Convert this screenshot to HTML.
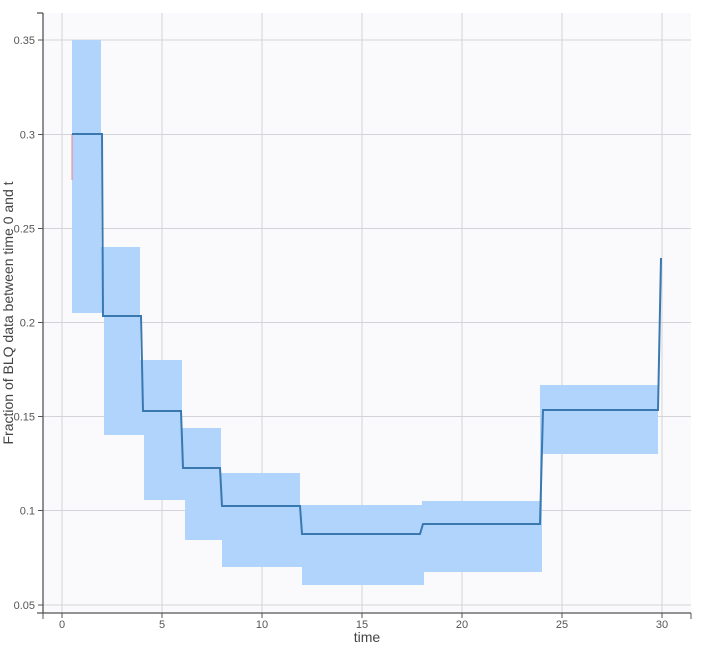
<!DOCTYPE html>
<html><head><style>body{margin:0;background:#fff;font-family:"Liberation Sans",sans-serif}</style></head><body>
<svg width="707" height="649" xmlns="http://www.w3.org/2000/svg" font-family="Liberation Sans, sans-serif">
<rect x="43" y="13" width="648" height="600" fill="#fafafd"/>
<g stroke="#d4d4d8" stroke-width="1">
<line x1="62" y1="13" x2="62" y2="613"/><line x1="162" y1="13" x2="162" y2="613"/><line x1="262" y1="13" x2="262" y2="613"/><line x1="362" y1="13" x2="362" y2="613"/><line x1="462" y1="13" x2="462" y2="613"/><line x1="562" y1="13" x2="562" y2="613"/><line x1="662" y1="13" x2="662" y2="613"/>
<line x1="43" y1="40" x2="691" y2="40"/><line x1="43" y1="134.5" x2="691" y2="134.5"/><line x1="43" y1="228.5" x2="691" y2="228.5"/><line x1="43" y1="322.5" x2="691" y2="322.5"/><line x1="43" y1="416.5" x2="691" y2="416.5"/><line x1="43" y1="510.5" x2="691" y2="510.5"/><line x1="43" y1="605" x2="691" y2="605"/>
</g>
<path fill="#b0d4fb" d="M72,40 L101,40 L101,247 L140,247 L140,360 L182,360 L182,428 L221,428 L221,473 L300,473 L300,505 L422,505 L422,501 L540,501 L540,385 L658,385 L658,454 L542,454 L542,572 L424,572 L424,585 L302,585 L302,567 L222,567 L222,540 L185,540 L185,500 L144,500 L144,435 L104,435 L104,313 L72,313 Z"/>
<line x1="72" y1="134" x2="72" y2="180" stroke="#f08080" stroke-width="1"/>
<path fill="none" stroke="#3a78b0" stroke-width="2" d="M72,134 L102,134 L103,316 L141,316 L143,411 L181,411 L183,468 L220,468 L222,506 L300,506 L302,534 L420,534 L423,524 L540,524 L543,410 L658,410 L661,258"/>
<g stroke="#555" stroke-width="1.3" fill="none">
<line x1="43" y1="13" x2="43" y2="613"/><line x1="37" y1="613" x2="691" y2="613"/>
<line x1="37" y1="13" x2="43" y2="13"/>
</g>
<g stroke="#555" stroke-width="1">
<line x1="38" y1="40" x2="43" y2="40"/><line x1="38" y1="134.5" x2="43" y2="134.5"/><line x1="38" y1="228.5" x2="43" y2="228.5"/><line x1="38" y1="322.5" x2="43" y2="322.5"/><line x1="38" y1="416.5" x2="43" y2="416.5"/><line x1="38" y1="510.5" x2="43" y2="510.5"/><line x1="38" y1="605" x2="43" y2="605"/>
<line x1="43" y1="613" x2="43" y2="619"/><line x1="691" y1="613" x2="691" y2="619"/>
<line x1="62" y1="613" x2="62" y2="618"/><line x1="162" y1="613" x2="162" y2="618"/><line x1="262" y1="613" x2="262" y2="618"/><line x1="362" y1="613" x2="362" y2="618"/><line x1="462" y1="613" x2="462" y2="618"/><line x1="562" y1="613" x2="562" y2="618"/><line x1="662" y1="613" x2="662" y2="618"/>
</g>
<g font-size="11" fill="#555" text-anchor="end">
<text x="35" y="44">0.35</text><text x="35" y="138.5">0.3</text><text x="35" y="232.5">0.25</text><text x="35" y="326.5">0.2</text><text x="35" y="420.5">0.15</text><text x="35" y="514.5">0.1</text><text x="35" y="609">0.05</text>
</g>
<g font-size="11" fill="#555" text-anchor="middle">
<text x="62" y="628">0</text><text x="162" y="628">5</text><text x="262" y="628">10</text><text x="362" y="628">15</text><text x="462" y="628">20</text><text x="562" y="628">25</text><text x="662" y="628">30</text>
</g>
<text x="367" y="642" font-size="14" fill="#444" text-anchor="middle">time</text>
<text transform="translate(13,313) rotate(-90)" font-size="14" fill="#444" text-anchor="middle">Fraction of BLQ data between time 0 and t</text>
</svg>
</body></html>
